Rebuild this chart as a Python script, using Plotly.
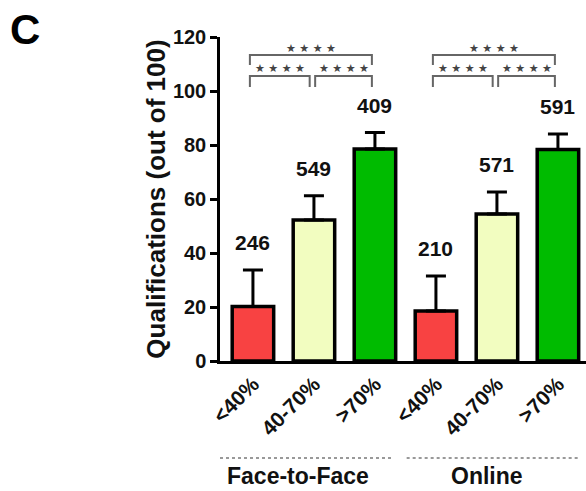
import plotly.graph_objects as go

# Qualification outcome by attendance band, for two teaching modes
categories = ["<40%", "40-70%", ">70%", "<40%", "40-70%", ">70%"]
groups = ["Face-to-Face", "Online"]
means = [20.2, 52.2, 78.5, 18.5, 54.4, 78.3]
sd_upper = [13.5, 9.0, 6.1, 13.0, 8.2, 5.8]
n_students = [246, 549, 409, 210, 571, 591]
bar_colors = ["#F84242", "#F2FDC0", "#00BB00", "#F84242", "#F2FDC0", "#00BB00"]
y_ticks = [0, 20, 40, 60, 80, 100, 120]
sig_label = "★ ★ ★ ★"

W, H = 586, 491
M_L, M_R, M_T, M_B = 220, 0, 37, 130
FONT = "Liberation Sans, Arial, sans-serif"

x_pos = list(range(len(categories)))

fig = go.Figure()
fig.add_trace(go.Bar(
    x=x_pos,
    y=means,
    width=0.68,
    marker=dict(color=bar_colors, line=dict(color="black", width=3.5)),
    error_y=dict(type="data", symmetric=False, array=sd_upper,
                 arrayminus=[0] * len(means), color="black",
                 thickness=3, width=10),
    showlegend=False,
    hoverinfo="skip",
))

annotations = []
shapes = []

# sample size above each bar
for xi, m, e, n in zip(x_pos, means, sd_upper, n_students):
    annotations.append(dict(
        x=xi, y=m + e, xref="x", yref="y", text=str(n), showarrow=False,
        yanchor="bottom", yshift=14,
        font=dict(family=FONT, size=21, color="#111", weight="bold"),
    ))

# significance brackets within each group
BR_COLOR = "#666666"
def bracket(x0, x1, y_top, drop, star_y):
    shapes.append(dict(type="path", xref="x", yref="y",
                       path=f"M {x0} {y_top - drop} L {x0} {y_top} L {x1} {y_top} L {x1} {y_top - drop}",
                       line=dict(color=BR_COLOR, width=2)))
    annotations.append(dict(x=(x0 + x1) / 2, y=star_y, xref="x", yref="y",
                            text=sig_label, showarrow=False, yanchor="middle",
                            font=dict(family="DejaVu Sans", size=11, color="#444")))

for g in range(len(groups)):
    a, b, c = 3 * g, 3 * g + 1, 3 * g + 2
    bracket(a - 0.05, c - 0.05, 113.3, 3.7, 115.9)
    bracket(a - 0.05, b - 0.07, 105.6, 4.1, 108.3)
    bracket(b + 0.02, c - 0.05, 105.6, 4.1, 108.3)

# group separators and names below the rotated tick labels
def py(pix):
    return (H - M_B - pix) / (H - M_T - M_B)

sep_spans = [(-0.54, 2.30), (2.52, 5.36)]
label_x = [0.74, 3.84]
for (s0, s1), lx, name in zip(sep_spans, label_x, groups):
    shapes.append(dict(type="line", xref="x", yref="paper", x0=s0, x1=s1,
                       y0=py(458), y1=py(458),
                       line=dict(color="#999999", width=2, dash="dot")))
    annotations.append(dict(x=lx, y=py(491), xref="x", yref="paper",
                            text=name, showarrow=False, yanchor="bottom",
                            font=dict(family=FONT, size=23, color="#111", weight="bold")))

# panel letter
annotations.append(dict(x=(25 - M_L) / (W - M_L - M_R), y=py(30), xref="paper", yref="paper",
                        text="C", showarrow=False, xanchor="center", yanchor="middle",
                        font=dict(family=FONT, size=42, color="black", weight="bold")))

fig.update_layout(
    width=W, height=H,
    margin=dict(l=M_L, r=M_R, t=M_T, b=M_B, pad=0),
    paper_bgcolor="white", plot_bgcolor="white",
    font=dict(family=FONT, color="#111"),
    shapes=shapes,
    annotations=annotations,
    xaxis=dict(
        range=[-0.54, 5.46],
        tickmode="array", tickvals=x_pos, ticktext=categories,
        tickangle=-45, ticks="", showgrid=False, zeroline=False,
        showline=True, linecolor="black", linewidth=2.5,
        tickfont=dict(family=FONT, size=21, color="#111", weight="bold"),
    ),
    yaxis=dict(
        range=[0, 120],
        tickmode="array", tickvals=y_ticks,
        ticks="outside", ticklen=7, tickwidth=2.5, tickcolor="black",
        showgrid=False, zeroline=False,
        showline=True, linecolor="black", linewidth=2.5,
        tickfont=dict(family=FONT, size=20, color="#111", weight="bold"),
        title=dict(text="Qualifications (out of 100)", standoff=0,
                   font=dict(family=FONT, size=26, color="#111", weight="bold")),
    ),
)

fig.write_html("out.html")
